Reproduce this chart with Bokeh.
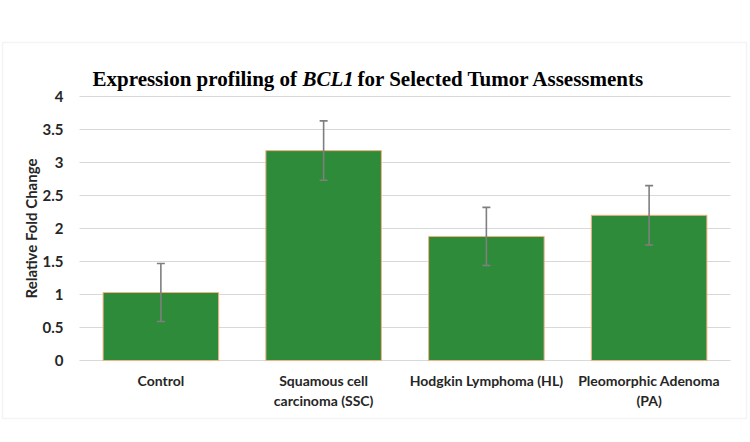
import math
from bokeh.plotting import figure
from bokeh.models import (ColumnDataSource, Whisker, Label, BoxAnnotation, Range1d, TeeHead)
from bokeh.core.properties import value
from bokeh.embed import file_html
from bokeh.resources import INLINE

categories = ["Control", "Squamous cell carcinoma (SSC)", "Hodgkin Lymphoma (HL)", "Pleomorphic Adenoma (PA)"]
tick_labels = ["Control", "Squamous cell\ncarcinoma (SSC)", "Hodgkin Lymphoma (HL)", "Pleomorphic Adenoma\n(PA)"]
values = [1.03, 3.18, 1.88, 2.20]
errors = [0.44, 0.45, 0.44, 0.45]
y_ticks = [0, 0.5, 1, 1.5, 2, 2.5, 3, 3.5, 4]
y_tick_labels = ["0", "0.5", "1", "1.5", "2", "2.5", "3", "3.5", "4"]
y_label = "Relative Fold Change"

# frame geometry (pixels) of the plotting area inside the full canvas
W, H = 750, 442
FL, FR, FT, FB = 79, 730, 96, 360
n = len(categories)
ymax = 4.0

def sx(px):
    return (px - FL) / (FR - FL) * n

def sy(px):
    return (FB - px) / (FB - FT) * ymax

xpos = [i + 0.5 for i in range(n)]
src = ColumnDataSource(dict(
    x=xpos, top=values,
    upper=[v + e for v, e in zip(values, errors)],
    lower=[v - e for v, e in zip(values, errors)],
))

p = figure(width=W, height=H, output_backend="svg", toolbar_location=None,
           x_range=Range1d(sx(0), sx(W)), y_range=Range1d(sy(H), sy(0)),
           x_axis_type=None, y_axis_type=None, min_border=0)
p.outline_line_color = None
p.background_fill_color = "white"
p.border_fill_color = "white"
p.grid.visible = False

# outer light border
p.add_layout(BoxAnnotation(left=sx(2), right=sx(746), top=sy(42), bottom=sy(418),
                           fill_alpha=0, line_color="#D9D9D9", line_width=1.5))

# horizontal grid lines
p.segment(x0=[0] * len(y_ticks), x1=[n] * len(y_ticks), y0=y_ticks, y1=y_ticks,
          line_color="#D9D9D9", line_width=1)

# bars
p.vbar(x="x", top="top", width=0.71, source=src, fill_color="#2E8B3A",
       line_color="#F4B183", line_width=1)

# error bars
w = Whisker(base="x", upper="upper", lower="lower", source=src,
            line_color="#7F7F7F", line_width=1.6, level="overlay")
w.upper_head = TeeHead(size=8, line_color="#7F7F7F", line_width=1.6)
w.lower_head = TeeHead(size=8, line_color="#7F7F7F", line_width=1.6)
p.add_layout(w)

# y tick labels
p.text(x=[sx(63)] * len(y_ticks), y=y_ticks, text=y_tick_labels,
       text_font=value("Lato"), text_font_style="bold", text_font_size="15px",
       text_color="#262626", text_align="right", text_baseline="middle")

# y axis label
p.text(x=[sx(30)], y=[ymax / 2], text=[y_label], angle=math.pi / 2,
       text_font=value("Lato"), text_font_style="bold", text_font_size="15px",
       text_color="#262626", text_align="center", text_baseline="middle")

# x tick labels
p.text(x=xpos, y=[sy(371)] * n, text=tick_labels,
       text_font=value("Lato"), text_font_style="bold", text_font_size="14px",
       text_color="#262626", text_align="center", text_baseline="top",
       text_line_height=1.2)

# title pieces
title_parts = [("Expression profiling of", "bold", 92),
               ("BCL1", "bold italic", 302),
               ("for Selected Tumor Assessments", "bold", 357)]
for txt, style, px in title_parts:
    p.add_layout(Label(x=sx(px), y=sy(78), text=txt, text_font="Liberation Serif",
                       text_font_style=style, text_font_size="21px",
                       text_color="black", text_baseline="alphabetic", text_align="left"))

open("out.html", "w").write(file_html(p, INLINE))
